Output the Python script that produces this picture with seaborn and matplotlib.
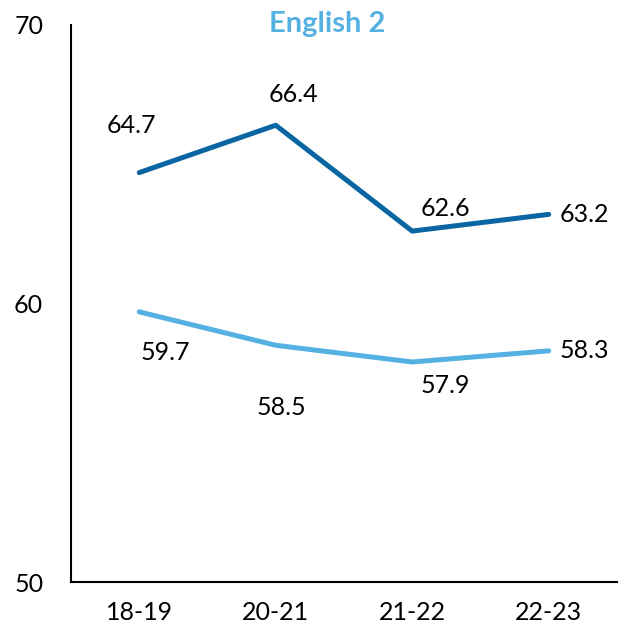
import numpy as np
import pandas as pd
import matplotlib
matplotlib.use('Agg')
import matplotlib.pyplot as plt
import seaborn as sns

years = ['18-19', '20-21', '21-22', '22-23']
series_dark = [64.7, 66.4, 62.6, 63.2]
series_light = [59.7, 58.5, 57.9, 58.3]
y_ticks = [50, 60, 70]
title = 'English 2'

dark_color = '#0a66a3'
light_color = '#56b1e3'

sns.set_style('white')
plt.rcParams['font.family'] = ['Lato', 'DejaVu Sans']
plt.rcParams['text.color'] = 'black'
plt.rcParams['xtick.color'] = 'black'
plt.rcParams['ytick.color'] = 'black'

df = pd.DataFrame({
    'year': years * 2,
    'value': series_dark + series_light,
    'group': ['dark'] * 4 + ['light'] * 4,
})

fig = plt.figure(figsize=(6.37, 6.34), dpi=100)
ax = fig.add_axes([0.1115, 0.082, 0.857, 0.8786])
sns.lineplot(data=df, x='year', y='value', hue='group', sort=False,
             palette={'dark': dark_color, 'light': light_color},
             linewidth=3.6, legend=False, ax=ax)

# label offsets (points)
dark_off = [(-6, 34), (13, 22), (24, 16), (26, 0)]
light_off = [(19, -29), (4, -45), (24, -17), (26, 0)]
for i, (v, off) in enumerate(zip(series_dark, dark_off)):
    ax.annotate(f'{v:.1f}', (i, v), xytext=off, textcoords='offset points',
                ha='center', va='center', fontsize=18, color='black')
for i, (v, off) in enumerate(zip(series_light, light_off)):
    ax.annotate(f'{v:.1f}', (i, v), xytext=off, textcoords='offset points',
                ha='center', va='center', fontsize=18, color='black')

ax.set_xlim(-0.5, 3.5)
ax.set_ylim(50, 70)
ax.set_yticks(y_ticks)
ax.set_xlabel('')
ax.set_ylabel('')
ax.tick_params(axis='both', labelsize=18, length=0, labelcolor='black')
ax.tick_params(axis='y', pad=20)
ax.tick_params(axis='x', pad=14)
for s in ['top', 'right']:
    ax.spines[s].set_visible(False)
for s in ['left', 'bottom']:
    ax.spines[s].set_color('black')
    ax.spines[s].set_linewidth(1.5)
fig.text(0.513, 0.962, title, ha='center', va='center', fontsize=21,
         fontweight='bold', color=light_color)

plt.savefig('out.png', dpi=100)
